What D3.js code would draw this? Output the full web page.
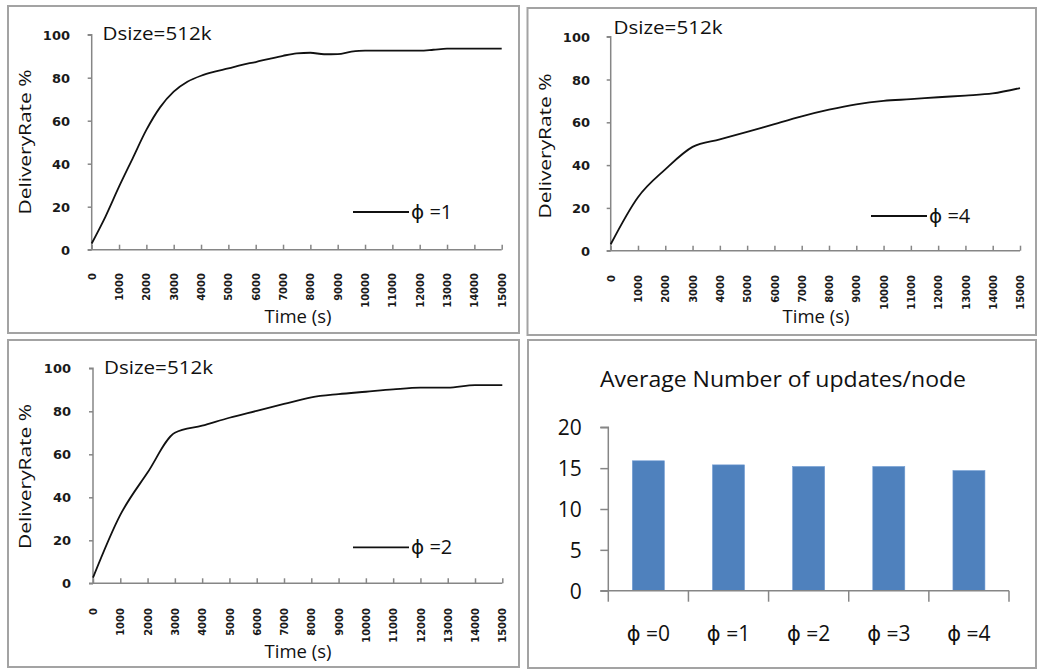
<!DOCTYPE html>
<html>
<head>
<meta charset="utf-8">
<script src="https://cdn.jsdelivr.net/npm/d3@7/dist/d3.min.js"></script>
<style>
  html, body { margin: 0; padding: 0; background: #fff; }
  svg { display: block; }
</style>
</head>
<body>
<svg id="chart" width="1037" height="669"></svg>
<script>
// ---------- DATA ----------
const timeTicks = [0,1000,2000,3000,4000,5000,6000,7000,8000,9000,10000,11000,12000,13000,14000,15000];
const yTicks = [0, 20, 40, 60, 80, 100];

// phi = 1 (top-left)
const timesPhi1 = [0,500,1000,1500,2000,2500,3000,3500,4000,4500,5000,5500,6000,6500,7000,7500,8000,8500,9000,9500,10000,11000,12000,12500,13000,14000,15000];
const ratePhi1  = [2.9,15.3,29.3,42.5,55.7,66.2,73.5,78.1,80.9,82.8,84.3,86.0,87.3,88.8,90.2,91.3,91.6,90.9,91.0,92.1,92.6,92.6,92.6,93.0,93.5,93.5,93.5];

// phi = 4 (top-right)
const timesPhi4 = [0,1000,2000,3000,4000,5000,6000,7000,8000,9000,10000,11000,12000,13000,14000,15000];
const ratePhi4  = [3.0,25.0,38.0,48.5,52.0,55.5,59.2,62.8,65.9,68.4,70.0,70.8,71.7,72.5,73.5,76.0];

// phi = 2 (bottom-left)
const timesPhi2 = [0,1000,2000,3000,4000,5000,6000,7000,8000,9000,10000,11000,12000,13000,14000,15000];
const ratePhi2  = [2.6,31.8,51.5,70.0,73.3,77.0,80.2,83.4,86.5,88.0,89.1,90.2,91.0,91.0,92.2,92.2];

// bar chart (bottom-right)
const barCategories = ["ϕ =0","ϕ =1","ϕ =2","ϕ =3","ϕ =4"];
const barValues = [15.9, 15.4, 15.2, 15.2, 14.7];
const barTicks = [0, 5, 10, 15, 20];

const panelTitle = "Dsize=512k";
const yLabel = "DeliveryRate %";
const xLabel = "Time (s)";
const barTitle = "Average Number of updates/node";

// ---------- DRAWING ----------
const svg = d3.select("#chart");
const SANS = "'Open Sans', 'DejaVu Sans', sans-serif";
const TICKF = "'DejaVu Sans', sans-serif";
const AXIS = "#868686";
const BORDER = "#a3a3a3";

function border(x, y, w, h) {
  svg.append("rect").attr("x", x).attr("y", y).attr("width", w).attr("height", h)
    .attr("fill", "none").attr("stroke", BORDER).attr("stroke-width", 2);
}

function linePanel(cfg, times, values, legendText) {
  border(cfg.bx, cfg.by, cfg.bw, cfg.bh);
  const x = d3.scaleLinear().domain([0, 15000]).range([cfg.x0, cfg.x1]);
  const y = d3.scaleLinear().domain([0, 100]).range([cfg.y0, cfg.y1]);
  const g = svg.append("g");

  // y axis
  const ya = g.append("g").attr("transform", `translate(${cfg.x0},0)`)
    .call(d3.axisLeft(y).tickValues(yTicks).tickSize(4).tickPadding(0).tickFormat(d3.format("d")));
  ya.select(".domain").attr("stroke", AXIS).attr("stroke-width", 1.5).attr("d", `M-4,${cfg.y1}H0V${cfg.y0}`);
  ya.selectAll(".tick line").attr("stroke", AXIS).attr("stroke-width", 1.5);
  ya.selectAll(".tick text").attr("x", cfg.ytx - cfg.x0).attr("dy", "0.36em")
    .attr("font-family", TICKF).attr("font-weight", "bold").attr("font-size", 13).attr("fill", "#1a1a1a");

  // x axis
  const xa = g.append("g").attr("transform", `translate(0,${cfg.y0})`)
    .call(d3.axisBottom(x).tickValues(timeTicks).tickSize(-5).tickPadding(0).tickFormat(d3.format("d")));
  xa.select(".domain").attr("stroke", AXIS).attr("stroke-width", 1.5).attr("d", `M${cfg.x0 - 4},0H${cfg.x1}`);
  xa.selectAll(".tick line").attr("stroke", AXIS).attr("stroke-width", 1.5);
  xa.selectAll(".tick text")
    .attr("transform", `translate(0,${cfg.xty - cfg.y0}) rotate(-90)`)
    .attr("y", 0).attr("dy", "0.36em").attr("x", 0)
    .attr("text-anchor", "end")
    .attr("font-family", TICKF).attr("font-weight", "bold").attr("font-size", 10).attr("fill", "#1a1a1a");

  // line
  const line = d3.line().x((d, i) => x(times[i])).y(d => y(d)).curve(d3.curveMonotoneX);
  g.append("path").datum(values).attr("d", line)
    .attr("fill", "none").attr("stroke", "#111").attr("stroke-width", 1.8)
    .attr("stroke-linejoin", "round");

  // title
  g.append("text").attr("x", cfg.tx).attr("y", cfg.ty).text(panelTitle)
    .attr("font-family", SANS).attr("font-size", 18.5).attr("fill", "#111")
    .attr("textLength", 109).attr("lengthAdjust", "spacingAndGlyphs");

  // y label
  g.append("text").attr("transform", `translate(${cfg.ylx},${cfg.yly}) rotate(-90)`)
    .attr("text-anchor", "middle").text(yLabel)
    .attr("font-family", SANS).attr("font-size", 16).attr("fill", "#111")
    .attr("textLength", 145).attr("lengthAdjust", "spacingAndGlyphs");

  // x label
  g.append("text").attr("x", cfg.xlx).attr("y", cfg.xly).attr("text-anchor", "middle").text(xLabel)
    .attr("font-family", SANS).attr("font-size", 18.5).attr("fill", "#111");

  // legend
  g.append("line").attr("x1", cfg.lx).attr("x2", cfg.lx + 56).attr("y1", cfg.ly).attr("y2", cfg.ly)
    .attr("stroke", "#111").attr("stroke-width", 1.8);
  g.append("text").attr("x", cfg.lx + 58).attr("y", cfg.ly).attr("dy", "0.35em").text(legendText)
    .attr("font-family", SANS).attr("font-size", 20).attr("fill", "#111");
}

linePanel({bx: 8, by: 6, bw: 511, bh: 327,
  x0: 91.7, x1: 501.7, y0: 249.7, y1: 34.7, ytx: 70, xty: 273,
  tx: 102.5, ty: 40, ylx: 31, yly: 142, xlx: 298, xly: 322.5, lx: 353, ly: 212},
  timesPhi1, ratePhi1, "ϕ =1");

linePanel({bx: 527.5, by: 8, bw: 508.5, bh: 327,
  x0: 610.7, x1: 1020, y0: 250.7, y1: 36.7, ytx: 590, xty: 275,
  tx: 613.5, ty: 33.5, ylx: 551, yly: 146, xlx: 816, xly: 323, lx: 871, ly: 216},
  timesPhi4, ratePhi4, "ϕ =4");

linePanel({bx: 8, by: 340, bw: 511, bh: 327,
  x0: 93, x1: 502.3, y0: 583.3, y1: 368.3, ytx: 71, xty: 608,
  tx: 104, ty: 374.3, ylx: 31, yly: 476.5, xlx: 298, xly: 657.5, lx: 353, ly: 547.3},
  timesPhi2, ratePhi2, "ϕ =2");

// ---------- BAR PANEL ----------
(function () {
  border(528, 340, 508, 328);
  const x0 = 608.3, x1 = 1009, yb = 590.7, yt = 427.3;
  const xc = d3.scaleBand().domain(barCategories).range([x0, x1]);
  const y = d3.scaleLinear().domain([0, 20]).range([yb, yt]);
  const g = svg.append("g");

  g.selectAll("rect.bar").data(barValues).enter().append("rect")
    .attr("class", "bar")
    .attr("x", (d, i) => xc(barCategories[i]) + xc.bandwidth() / 2 - 16)
    .attr("width", 32)
    .attr("y", d => y(d)).attr("height", d => yb - y(d))
    .attr("fill", "#4f81bd").attr("stroke", "#6f9bd3").attr("stroke-width", 0.6);

  const ya = g.append("g").attr("transform", `translate(${x0},0)`)
    .call(d3.axisLeft(y).tickValues(barTicks).tickSize(8).tickPadding(0));
  ya.select(".domain").attr("stroke", AXIS).attr("stroke-width", 1.5).attr("d", `M-8,${yt}H0V${yb}`);
  ya.selectAll(".tick line").attr("stroke", AXIS).attr("stroke-width", 1.5);
  ya.selectAll(".tick text").attr("x", 581.7 - x0).attr("dy", "0.36em")
    .attr("font-family", SANS).attr("font-size", 21).attr("fill", "#111");

  const xa = g.append("g").attr("transform", `translate(0,${yb})`)
    .call(d3.axisBottom(xc).tickSize(0).tickPadding(0));
  xa.select(".domain").attr("stroke", AXIS).attr("stroke-width", 1.5).attr("d", `M${x0 - 8},0H${x1}`);
  xa.selectAll(".tick text").attr("y", 50.5).attr("dy", 0)
    .attr("font-family", SANS).attr("font-size", 21).attr("fill", "#111");
  const bounds = barCategories.map(c => xc(c)).concat([x1]);
  g.selectAll("line.ctick").data(bounds).enter().append("line")
    .attr("x1", d => d).attr("x2", d => d).attr("y1", yb).attr("y2", yb + 11)
    .attr("stroke", AXIS).attr("stroke-width", 1.5);

  g.append("text").attr("x", 783).attr("y", 386.5).attr("text-anchor", "middle").text(barTitle)
    .attr("font-family", SANS).attr("font-size", 22).attr("fill", "#111")
    .attr("textLength", 366).attr("lengthAdjust", "spacingAndGlyphs");
})();
</script>
</body>
</html>
